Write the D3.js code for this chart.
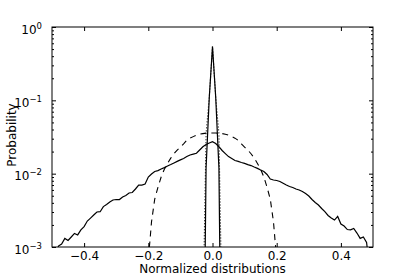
<!DOCTYPE html>
<html>
<head>
<meta charset="utf-8">
<script src="https://cdn.jsdelivr.net/npm/d3@7"></script>
<style>
  body { margin: 0; background: #fff; }
  svg { display: block; }
  text { font-family: "DejaVu Sans", sans-serif; fill: #000; }
</style>
</head>
<body>
<div id="viz"></div>
<script>
// DATA
// wide empirical curve, bins of 0.01
var wideX = [-0.49,-0.48,-0.47,-0.46,-0.45,-0.44,-0.43,-0.42,-0.41,-0.40,
  -0.39,-0.38,-0.37,-0.36,-0.35,-0.34,-0.33,-0.32,-0.31,-0.30,
  -0.29,-0.28,-0.27,-0.26,-0.25,-0.24,-0.23,-0.22,-0.21,-0.20,
  -0.19,-0.18,-0.17,-0.16,-0.15,-0.14,-0.13,-0.12,-0.11,-0.10,
  -0.09,-0.08,-0.07,-0.06,-0.05,-0.04,-0.03,-0.02,-0.01,0.00,
  0.01,0.02,0.03,0.04,0.05,0.06,0.07,0.08,0.09,0.10,
  0.11,0.12,0.13,0.14,0.15,0.16,0.17,0.18,0.19,0.20,
  0.21,0.22,0.23,0.24,0.25,0.26,0.27,0.28,0.29,0.30,
  0.31,0.32,0.33,0.34,0.35,0.36,0.37,0.38,0.39,0.40,
  0.41,0.42,0.43,0.44,0.45,0.46,0.47,0.48,0.49];
var wideP = [5e-4,1.03e-3,1.10e-3,1.31e-3,1.23e-3,1.37e-3,1.53e-3,1.46e-3,1.71e-3,1.90e-3,
  2.26e-3,2.48e-3,2.73e-3,3.00e-3,3.03e-3,3.56e-3,3.80e-3,4.11e-3,4.37e-3,4.44e-3,
  4.44e-3,4.81e-3,5.04e-3,5.45e-3,5.54e-3,6.18e-3,7.00e-3,7.00e-3,7.23e-3,9.00e-3,
  9.89e-3,1.07e-2,1.10e-2,1.16e-2,1.21e-2,1.27e-2,1.33e-2,1.40e-2,1.47e-2,1.54e-2,
  1.61e-2,1.71e-2,1.80e-2,1.85e-2,1.90e-2,2.10e-2,2.33e-2,2.50e-2,2.62e-2,2.73e-2,
  2.58e-2,2.33e-2,2.07e-2,1.88e-2,1.71e-2,1.61e-2,1.51e-2,1.47e-2,1.42e-2,1.38e-2,
  1.33e-2,1.29e-2,1.23e-2,1.18e-2,1.12e-2,1.07e-2,9.75e-3,8.46e-3,8.20e-3,8.07e-3,
  7.82e-3,7.39e-3,7.00e-3,6.68e-3,6.47e-3,6.18e-3,5.98e-3,5.71e-3,5.36e-3,4.96e-3,
  4.44e-3,4.04e-3,3.74e-3,3.35e-3,3.03e-3,2.69e-3,2.48e-3,2.33e-3,2.61e-3,2.06e-3,
  1.93e-3,1.73e-3,1.71e-3,1.79e-3,1.55e-3,1.31e-3,1.37e-3,1.15e-3,5e-4];

// narrow spike (solid) and narrow dotted curve
var spikeX = [-0.03,-0.02,-0.01,0.00,0.01,0.02,0.03];
var spikeP = [1e-6,0.012,0.11,0.54,0.11,0.012,1e-6];
var dotX = [-0.03,-0.02,-0.01,0.00,0.01,0.02,0.03];
var dotP = [1e-4,0.035,0.11,0.54,0.11,0.035,1e-4];

// dashed reference curve
var dashX = [-0.2,-0.195,-0.19,-0.18,-0.17,-0.16,-0.15,-0.14,-0.13,-0.12,-0.11,-0.10,
  -0.09,-0.08,-0.07,-0.06,-0.05,-0.04,-0.03,-0.02,-0.01,0.00,
  0.01,0.02,0.03,0.04,0.05,0.06,0.07,0.08,0.09,
  0.10,0.11,0.12,0.13,0.14,0.15,0.16,0.17,0.18,0.19,0.195,0.2];
var dashP = [7e-4,1.2e-3,2.2e-3,4.5e-3,6.5e-3,9.0e-3,1.15e-2,1.38e-2,1.63e-2,1.87e-2,2.10e-2,2.30e-2,
  2.55e-2,2.85e-2,3.05e-2,3.20e-2,3.35e-2,3.45e-2,3.52e-2,3.57e-2,3.58e-2,3.58e-2,
  3.58e-2,3.57e-2,3.52e-2,3.45e-2,3.35e-2,3.20e-2,3.05e-2,2.85e-2,2.55e-2,
  2.30e-2,2.10e-2,1.87e-2,1.63e-2,1.38e-2,1.15e-2,9.0e-3,6.5e-3,4.5e-3,2.2e-3,1.2e-3,7e-4];

var xTicks = [-0.4,-0.2,0.0,0.2,0.4];
var yExp = [-3,-2,-1,0];

// Dimensions
var w = 415, h = 275;
var mLeft = 52, mRight = 373, mTop = 27, mBottom = 247;
var fontSize = 12;

var x = d3.scaleLinear().domain([-0.5, 0.5]).range([mLeft, mRight]);
var y = d3.scaleLog().domain([1e-3, 1]).range([mBottom, mTop]);

var svg = d3.select("#viz").append("svg")
  .attr("width", w)
  .attr("height", h);

svg.append("defs").append("clipPath").attr("id", "plotClip")
  .append("rect")
  .attr("x", mLeft).attr("y", mTop)
  .attr("width", mRight - mLeft).attr("height", mBottom - mTop);

// LINES
var line = d3.line()
  .x(function(d) { return x(d[0]); })
  .y(function(d) { return y(d[1]); });

var plot = svg.append("g").attr("clip-path", "url(#plotClip)");

function series(xs, ps) {
  return xs.map(function(v, i) { return [v, ps[i]]; });
}

plot.append("path")
  .attr("d", line(series(dashX, dashP)))
  .attr("fill", "none").attr("stroke", "#000").attr("stroke-width", 1.1)
  .attr("stroke-dasharray", "6,5");

plot.append("path")
  .attr("d", line(series(dotX, dotP)))
  .attr("fill", "none").attr("stroke", "#000").attr("stroke-width", 1.1)
  .attr("stroke-dasharray", "1,2");

plot.append("path")
  .attr("d", line(series(wideX, wideP)))
  .attr("fill", "none").attr("stroke", "#000").attr("stroke-width", 1.2);

plot.append("path")
  .attr("d", line(series(spikeX, spikeP)))
  .attr("fill", "none").attr("stroke", "#000").attr("stroke-width", 1.2);

// AXES
function styleAxis(g) {
  g.attr("font-family", null).attr("font-size", null);
  g.select(".domain").remove();
  g.selectAll("line").attr("stroke", "#000");
  g.selectAll("text").style("font-size", fontSize + "px");
}

svg.append("g")
  .attr("transform", "translate(0," + mBottom + ")")
  .call(d3.axisBottom(x).tickValues(xTicks).tickSize(-4).tickPadding(4)
    .tickFormat(d3.format(".1f")))
  .call(styleAxis);

svg.append("g")
  .attr("transform", "translate(0," + mTop + ")")
  .call(d3.axisTop(x).tickValues(xTicks).tickSize(-4).tickFormat(""))
  .call(styleAxis);

var yMajor = yExp.map(function(e) { return Math.pow(10, e); });
var yMinor = y.ticks().filter(function(t) {
  return yMajor.every(function(m) { return Math.abs(t / m - 1) > 1e-6; });
});

svg.append("g")
  .attr("transform", "translate(" + mLeft + ",0)")
  .call(d3.axisLeft(y).tickValues(yMinor).tickSize(-2).tickFormat(""))
  .call(styleAxis);
svg.append("g")
  .attr("transform", "translate(" + mRight + ",0)")
  .call(d3.axisRight(y).tickValues(yMinor).tickSize(-2).tickFormat(""))
  .call(styleAxis);
svg.append("g")
  .attr("transform", "translate(" + mRight + ",0)")
  .call(d3.axisRight(y).tickValues(yMajor).tickSize(-4).tickFormat(""))
  .call(styleAxis);

var yAxis = svg.append("g")
  .attr("transform", "translate(" + mLeft + ",0)")
  .call(d3.axisLeft(y).tickValues(yMajor).tickSize(-4).tickPadding(10).tickFormat(""))
  .call(styleAxis);

yAxis.selectAll(".tick text")
  .attr("dy", 6)
  .each(function(d) {
    var t = d3.select(this);
    var e = Math.round(Math.log10(d));
    t.append("tspan").text("10");
    t.append("tspan")
      .attr("dy", -5)
      .style("font-size", "8.5px")
      .text(e < 0 ? "\u2212" + (-e) : String(e));
  });

// frame
svg.append("rect")
  .attr("x", mLeft).attr("y", mTop)
  .attr("width", mRight - mLeft).attr("height", mBottom - mTop)
  .attr("fill", "none").attr("stroke", "#000").attr("stroke-width", 1);

// LABELS
svg.append("text")
  .attr("x", (mLeft + mRight) / 2)
  .attr("y", 272.5)
  .attr("text-anchor", "middle")
  .style("font-size", fontSize + "px")
  .text("Normalized distributions");

svg.append("text")
  .attr("transform", "translate(16," + 135 + ") rotate(-90)")
  .attr("text-anchor", "middle")
  .style("font-size", fontSize + "px")
  .text("Probability");
</script>
</body>
</html>
